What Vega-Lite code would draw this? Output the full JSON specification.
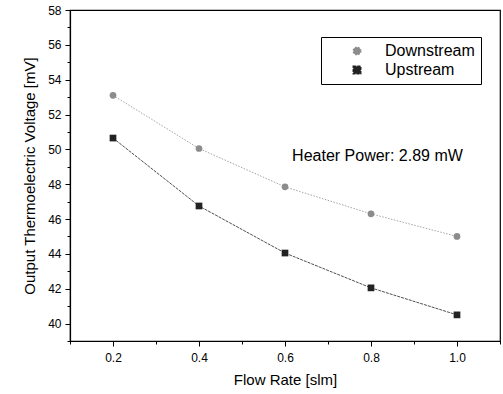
{
  "$schema": "https://vega.github.io/schema/vega-lite/v6.json",
  "autosize": "none",
  "width": 430,
  "height": 331,
  "padding": {"left": 70, "top": 10, "right": 3, "bottom": 53},
  "background": "white",
  "config": {
    "font": "Liberation Sans",
    "view": {"stroke": "black", "strokeWidth": 1.2},
    "axis": {"domainColor": "black", "tickColor": "black", "labelColor": "black", "titleColor": "black", "grid": false, "labelFontSize": 12, "titleFontSize": 15, "titleFontWeight": "normal", "domainWidth": 1.2}
  },
  "data": {"values": [
    {"flow": 0.2, "v": 53.1, "s": "Downstream"},
    {"flow": 0.4, "v": 50.05, "s": "Downstream"},
    {"flow": 0.6, "v": 47.85, "s": "Downstream"},
    {"flow": 0.8, "v": 46.3, "s": "Downstream"},
    {"flow": 1.0, "v": 45.0, "s": "Downstream"},
    {"flow": 0.2, "v": 50.65, "s": "Upstream"},
    {"flow": 0.4, "v": 46.75, "s": "Upstream"},
    {"flow": 0.6, "v": 44.05, "s": "Upstream"},
    {"flow": 0.8, "v": 42.05, "s": "Upstream"},
    {"flow": 1.0, "v": 40.5, "s": "Upstream"}
  ]},
  "encoding": {
    "x": {"field": "flow", "type": "quantitative", "title": "Flow Rate [slm]",
      "scale": {"domain": [0.1, 1.1], "nice": false, "zero": false},
      "axis": {"values": [0.1,0.2,0.3,0.4,0.5,0.6,0.7,0.8,0.9,1.0,1.1],
        "labelExpr": "(round(datum.value*10)%2==0 && datum.value>0.15 && datum.value<1.05) ? format(datum.value,'.1f') : ''",
        "tickSize": {"condition": {"test": "round(datum.value*10)%2==0", "value": 5}, "value": 3},
        "labelPadding": 6, "titlePadding": 9}},
    "y": {"field": "v", "type": "quantitative", "title": "Output Thermoelectric Voltage [mV]",
      "scale": {"domain": [39, 58], "nice": false, "zero": false},
      "axis": {"values": [39,40,41,42,43,44,45,46,47,48,49,50,51,52,53,54,55,56,57,58],
        "labelExpr": "datum.value%2==0 ? format(datum.value,'d') : ''",
        "tickSize": {"condition": {"test": "datum.value%2==0", "value": 5}, "value": 3},
        "labelPadding": 4, "titlePadding": 10}}
  },
  "layer": [
    {
      "mark": {"type": "line", "strokeWidth": 0.8},
      "encoding": {
        "color": {"field": "s", "type": "nominal", "title": null,
          "scale": {"domain": ["Downstream", "Upstream"], "range": ["#8c8c8c", "#222222"]}},
        "strokeDash": {"field": "s", "type": "nominal", "title": null,
          "scale": {"domain": ["Downstream", "Upstream"], "range": [[1.5, 1.5], [3, 1]]}},
        "detail": {"field": "s"}
      }
    },
    {
      "mark": {"type": "point", "filled": true, "size": 45, "opacity": 1},
      "encoding": {
        "color": {"field": "s", "type": "nominal", "title": null,
          "scale": {"domain": ["Downstream", "Upstream"], "range": ["#8c8c8c", "#222222"]}},
        "shape": {"field": "s", "type": "nominal", "title": null,
          "scale": {"domain": ["Downstream", "Upstream"], "range": ["circle", "square"]},
          "legend": {"orient": "none", "legendX": 251, "legendY": 27, "strokeColor": "black", "padding": 6,
            "labelFontSize": 16, "symbolSize": 55, "symbolOffset": 22, "labelOffset": 20, "rowPadding": 3,
            "labelColor": "black", "symbolOpacity": 1}}
      }
    },
    {
      "data": {"values": [{"flow": 0.815, "v": 49.6, "label": "Heater Power: 2.89 mW"}]},
      "mark": {"type": "text", "fontSize": 16, "color": "black", "align": "center", "baseline": "middle"},
      "encoding": {"text": {"field": "label"}}
    }
  ]
}
